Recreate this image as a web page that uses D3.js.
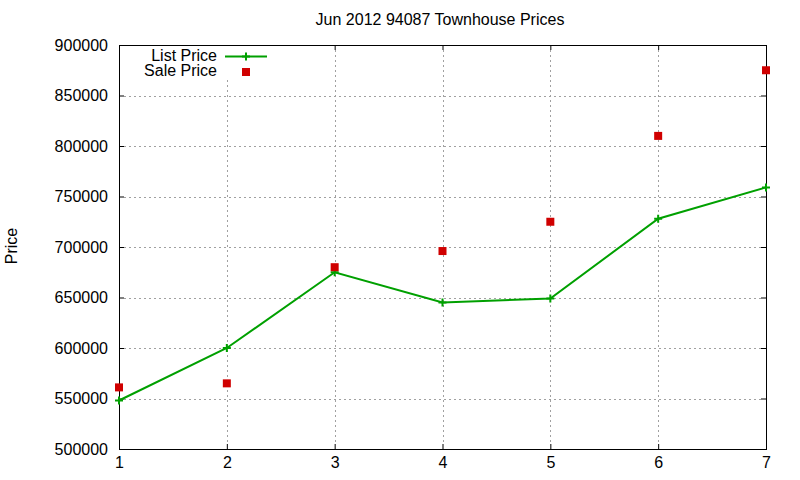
<!DOCTYPE html>
<html>
<head>
<meta charset="utf-8">
<script src="https://cdn.jsdelivr.net/npm/d3@7"></script>
<style>
  body { margin: 0; background: #fff; }
  text { font-family: "Liberation Sans", Arial, sans-serif; }
</style>
</head>
<body>
<svg id="chart" width="800" height="480"></svg>
<script>
// data
var months = [1, 2, 3, 4, 5, 6, 7];
var listPrice = [548000, 600000, 675000, 645000, 649000, 728000, 759000];
var salePrice = [561000, 565000, 680000, 696000, 725000, 810000, 875000];
var yTicks = [500000, 550000, 600000, 650000, 700000, 750000, 800000, 850000, 900000];

var svg = d3.select("#chart");
// note: "top" clashes with window.top, so plot edges get their own names
var plotL = 119, plotR = 766, plotT = 45, plotB = 449;

var x = d3.scaleLinear().domain([1, 7]).range([plotL, plotR]);
var y = d3.scaleLinear().domain([500000, 900000]).range([plotB, plotT]);

// grid
var grid = svg.append("g")
    .attr("stroke", "#a0a0a0")
    .attr("stroke-width", 1)
    .attr("stroke-dasharray", "2,3");
grid.selectAll("line.gy")
    .data(yTicks.slice(1, -1))
    .join("line")
    .attr("class", "gy")
    .attr("x1", plotL + 5).attr("x2", plotR - 5)
    .attr("y1", function(d){ return Math.round(y(d)) + 0.5; })
    .attr("y2", function(d){ return Math.round(y(d)) + 0.5; });
grid.selectAll("line.gx")
    .data(months.slice(1, -1))
    .join("line")
    .attr("class", "gx")
    .attr("x1", function(d){ return Math.round(x(d)) + 0.5; })
    .attr("x2", function(d){ return Math.round(x(d)) + 0.5; })
    .attr("y1", plotT + 5).attr("y2", plotB - 5);

// axes with inward ticks, mirrored
var yAxisL = d3.axisLeft(y).tickValues(yTicks).tickSize(-5).tickPadding(11).tickFormat(d3.format("d"));
var yAxisR = d3.axisRight(y).tickValues(yTicks).tickSize(-5).tickFormat("");
var xAxisB = d3.axisBottom(x).tickValues(months).tickSize(-5).tickPadding(8).tickFormat(d3.format("d"));
var xAxisT = d3.axisTop(x).tickValues(months).tickSize(-5).tickFormat("");

function styleAxis(g) {
    g.select(".domain").remove();
    g.selectAll("line").attr("stroke", "#000");
    g.selectAll("text").attr("fill", "#000").style("font-size", "16px")
        .style("font-family", "'Liberation Sans', Arial, sans-serif");
}
svg.append("g").attr("transform", "translate(" + plotL + ",0)").call(yAxisL).call(styleAxis);
svg.append("g").attr("transform", "translate(" + plotR + ",0)").call(yAxisR).call(styleAxis);
svg.append("g").attr("transform", "translate(0," + plotB + ")").call(xAxisB).call(styleAxis);
svg.append("g").attr("transform", "translate(0," + plotT + ")").call(xAxisT).call(styleAxis);

// legend area masks grid
svg.append("rect")
    .attr("x", plotL + 1).attr("y", plotT + 1)
    .attr("width", 155).attr("height", 33)
    .attr("fill", "#fff");

// frame
svg.append("rect")
    .attr("x", plotL + 0.5).attr("y", plotT + 0.5)
    .attr("width", plotR - plotL).attr("height", plotB - plotT)
    .attr("fill", "none").attr("stroke", "#000").attr("stroke-width", 1);

// list price line
var line = d3.line()
    .x(function(d, i){ return x(months[i]); })
    .y(function(d){ return y(d); });
svg.append("path")
    .datum(listPrice)
    .attr("d", line)
    .attr("fill", "none")
    .attr("stroke", "#00a000")
    .attr("stroke-width", 2);

function plus(g, cx, cy, s) {
    g.append("path")
        .attr("d", "M" + (cx - s) + "," + cy + "H" + (cx + s) + "M" + cx + "," + (cy - s) + "V" + (cy + s))
        .attr("stroke", "#00a000").attr("stroke-width", 2).attr("fill", "none");
}
var pts = svg.append("g");
listPrice.forEach(function(d, i){ plus(pts, x(months[i]), y(d), 4); });

// sale price squares
svg.append("g").selectAll("rect")
    .data(salePrice)
    .join("rect")
    .attr("x", function(d, i){ return x(months[i]) - 4; })
    .attr("y", function(d){ return y(d) - 4; })
    .attr("width", 8).attr("height", 8)
    .attr("fill", "#d00000");

// legend
var legend = svg.append("g");
legend.append("text").attr("x", 217).attr("y", 61).attr("text-anchor", "end")
    .style("font-size", "16px").text("List Price");
legend.append("line").attr("x1", 225).attr("x2", 267).attr("y1", 56.5).attr("y2", 56.5)
    .attr("stroke", "#00a000").attr("stroke-width", 2);
plus(legend, 246, 56.5, 4);
legend.append("text").attr("x", 217).attr("y", 76).attr("text-anchor", "end")
    .style("font-size", "16px").text("Sale Price");
legend.append("rect").attr("x", 242).attr("y", 68).attr("width", 8).attr("height", 8)
    .attr("fill", "#d00000");

// title and y label
svg.append("text").attr("x", 440).attr("y", 25).attr("text-anchor", "middle")
    .style("font-size", "16px").text("Jun 2012 94087 Townhouse Prices");
svg.append("text")
    .attr("transform", "translate(17,246) rotate(-90)")
    .attr("text-anchor", "middle")
    .style("font-size", "16px").text("Price");
</script>
</body>
</html>
